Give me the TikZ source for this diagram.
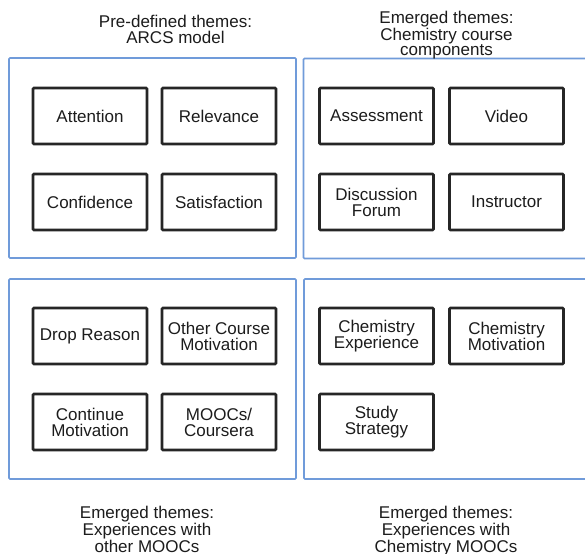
\documentclass[tikz,border=0pt]{standalone}
\usepackage{fontspec}
\setmainfont{Liberation Sans}
\usetikzlibrary{positioning}
\definecolor{groupblue}{RGB}{112,155,218}
\definecolor{boxline}{RGB}{38,38,38}
\definecolor{ink}{RGB}{28,28,28}
\tikzset{
  theme/.style={draw=boxline,line width=2.6pt,fill=white,rounded corners=1pt,
    minimum width=114pt,minimum height=56pt,inner sep=0pt,align=center,
    text=ink,font=\fontsize{17}{16}\selectfont},
  group/.style={draw=groupblue,line width=1.6pt,rounded corners=1pt,inner sep=0pt,
    minimum width=287pt,minimum height=200pt},
  heading/.style={anchor=base,align=center,inner sep=0pt,text=ink,
    font=\fontsize{17}{15.8}\selectfont}
}

\begin{document}
\begin{tikzpicture}[x=1pt,y=-1pt]
\useasboundingbox(0,0) rectangle (585,553);
\clip(0,0) rectangle (585,553);
\fill[white](0,0) rectangle (585,553);
% the four theme groups
\node[group](arcs) at(152.5,158){};
\node[group](course) at(447,158.5){};
\node[group](other) at(152.5,379){};
\node[group](chem) at(447.5,379){};

% headings (base = last line)
\node[heading](harcs) at(175.5,43.2){Pre-defined themes:\\ARCS model};
\node[heading](hcourse) at(446.5,56){Emerged themes:\\Chemistry course\\components};
\node[heading](hother) at(147,552){Emerged themes:\\Experiences with\\other MOOCs};
\node[heading](hchem) at(446,552){Emerged themes:\\Experiences with\\Chemistry MOOCs};

% ARCS model
\node[theme](att) at(90,116){Attention};
\node[theme](rel) at(219,116){Relevance};
\node[theme](con) at(90,202){Confidence};
\node[theme](sat) at(219,202){Satisfaction};

% course components
\node[theme](ass) at(376.5,116){Assessment};
\node[theme](vid) at(506.5,116){Video};
\node[theme](dis) at(376.5,202){Discussion\\Forum};
\node[theme](ins) at(506.5,202){Instructor};

% other MOOCs
\node[theme](drop) at(90,336){Drop Reason};
\node[theme](ocm) at(219,336){Other Course\\Motivation};
\node[theme](cont) at(90,422){Continue\\Motivation};
\node[theme](mooc) at(219,422){MOOCs/\\Coursera};

% chemistry MOOCs
\node[theme](cexp) at(376.5,336){Chemistry\\Experience};
\node[theme](cmot) at(506.5,336){Chemistry\\Motivation};
\node[theme](stud) at(376.5,422){Study\\Strategy};
\end{tikzpicture}
\end{document}
